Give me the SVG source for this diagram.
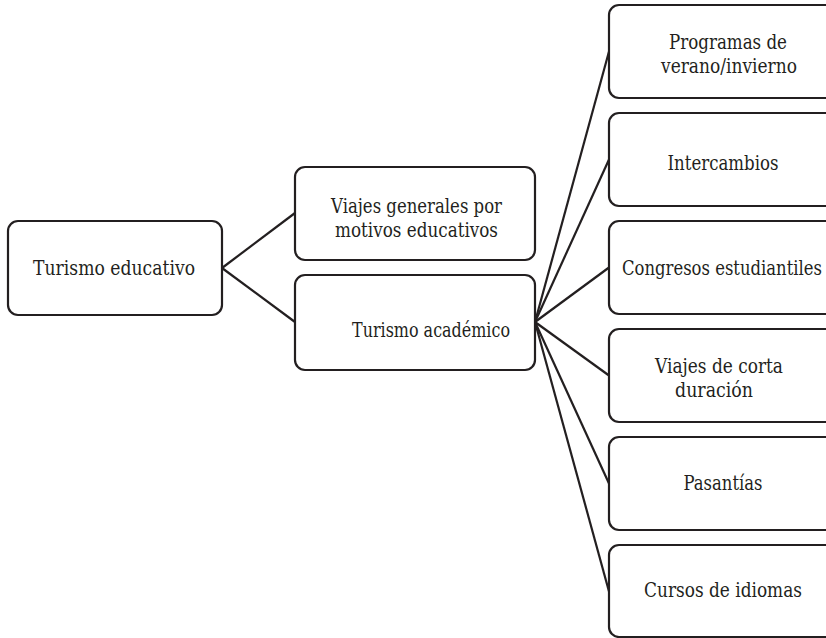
<svg xmlns="http://www.w3.org/2000/svg" width="826" height="638" viewBox="0 0 826 638">
<style>
.box{fill:#fff;stroke:#231f20;stroke-width:2.2}
.lbl{font-family:'DejaVu Serif','Liberation Serif',serif;font-size:20px;fill:#231f20;text-anchor:middle}
.con{stroke:#231f20;stroke-width:2.2;fill:none}
</style>
<rect width="826" height="638" fill="#fff"/>
<g id="connectors">
<line class="con" x1="222" y1="268" x2="295" y2="213"/>
<line class="con" x1="222" y1="268" x2="295" y2="322"/>
<line class="con" x1="535" y1="322" x2="609" y2="51.5"/>
<line class="con" x1="535" y1="322" x2="609" y2="159.5"/>
<line class="con" x1="535" y1="322" x2="609" y2="267.5"/>
<line class="con" x1="535" y1="322" x2="609" y2="375.5"/>
<line class="con" x1="535" y1="322" x2="609" y2="483.5"/>
<line class="con" x1="535" y1="322" x2="609" y2="591.5"/>
</g>
<g id="turismo-educativo">
<rect class="box" x="8" y="221" width="214" height="94" rx="10"/>
<text class="lbl" x="114" y="275" textLength="162" lengthAdjust="spacingAndGlyphs">Turismo educativo</text>
</g>
<g id="viajes-generales">
<rect class="box" x="295" y="167" width="240" height="93" rx="10"/>
<text class="lbl" x="416.5" y="213" textLength="171" lengthAdjust="spacingAndGlyphs">Viajes generales por</text>
<text class="lbl" x="416.5" y="237" textLength="163" lengthAdjust="spacingAndGlyphs">motivos educativos</text>
</g>
<g id="turismo-academico">
<rect class="box" x="295" y="275" width="240" height="95" rx="10"/>
<text class="lbl" x="431" y="337" textLength="158" lengthAdjust="spacingAndGlyphs">Turismo académico</text>
</g>
<g id="programas">
<rect class="box" x="609" y="5" width="240" height="93" rx="10"/>
<text class="lbl" x="728" y="49" textLength="118" lengthAdjust="spacingAndGlyphs">Programas de</text>
<text class="lbl" x="729" y="73" textLength="136" lengthAdjust="spacingAndGlyphs">verano/invierno</text>
</g>
<g id="intercambios">
<rect class="box" x="609" y="113" width="240" height="93" rx="10"/>
<text class="lbl" x="723" y="170" textLength="111" lengthAdjust="spacingAndGlyphs">Intercambios</text>
</g>
<g id="congresos">
<rect class="box" x="609" y="221" width="240" height="93" rx="10"/>
<text class="lbl" x="722" y="275" textLength="200" lengthAdjust="spacingAndGlyphs">Congresos estudiantiles</text>
</g>
<g id="viajes-corta">
<rect class="box" x="609" y="329" width="240" height="93" rx="10"/>
<text class="lbl" x="719" y="373" textLength="128" lengthAdjust="spacingAndGlyphs">Viajes de corta</text>
<text class="lbl" x="714" y="397" textLength="78" lengthAdjust="spacingAndGlyphs">duración</text>
</g>
<g id="pasantias">
<rect class="box" x="609" y="437" width="240" height="93" rx="10"/>
<text class="lbl" x="723" y="490" textLength="79" lengthAdjust="spacingAndGlyphs">Pasantías</text>
</g>
<g id="cursos">
<rect class="box" x="609" y="545" width="240" height="92" rx="10"/>
<text class="lbl" x="723" y="597" textLength="158" lengthAdjust="spacingAndGlyphs">Cursos de idiomas</text>
</g>
</svg>
